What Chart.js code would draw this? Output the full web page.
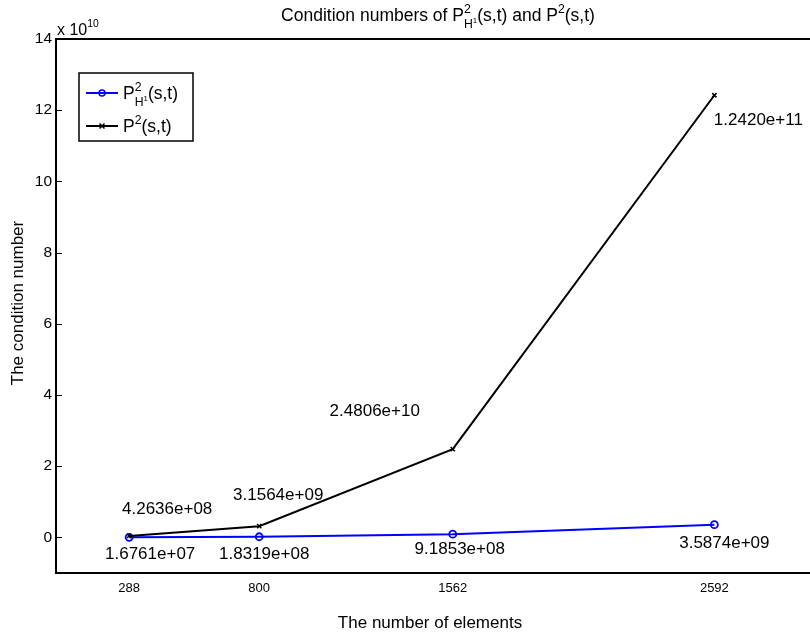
<!DOCTYPE html>
<html lang="en">
<head>
    <meta charset="UTF-8"/>
    <title>Condition numbers</title>
    <script src="https://cdn.jsdelivr.net/npm/chart.js"></script>
    <style>
        html, body {
            margin: 0;
            padding: 0;
            background: #fff;
            overflow: hidden;
        }

        #chart {
            display: block;
            width: 830px;
            height: 641px;
        }
    </style>
</head>
<body>
<canvas id="chart" width="830" height="641"></canvas>

<script>
    // data
    const xValues = [288, 800, 1562, 2592];
    const p2H1Values = [1.6761e7, 1.8319e8, 9.1853e8, 3.5874e9];
    const p2Values = [4.2636e8, 3.1564e9, 2.4806e10, 1.2420e11];
    const yTickValues = [0, 2, 4, 6, 8, 10, 12, 14];
    const yExponent = 10;

    // pixel offsets of the value labels from their points
    const p2H1LabelOffsets = [[21, 17], [5, 18], [7, 15], [10, 19]];
    const p2LabelOffsets = [[38, -27], [19, -31], [-78, -38], [44, 25]];

    const FONT = "'Liberation Sans', Arial, Helvetica, sans-serif";
    const BLUE = '#0000ff';
    const BLACK = '#000000';
    const scaleFactor = Math.pow(10, yExponent);

    function fmtValue(v) {
        const [m, e] = v.toExponential(4).split('e');
        const n = parseInt(e, 10);
        return m + 'e' + (n < 0 ? '-' : '+') + String(Math.abs(n)).padStart(2, '0');
    }

    // parts: {t, s (scale), dy (fraction of size), adv (advance x)}
    function richWidth(ctx, parts, size) {
        let w = 0;
        parts.forEach(p => {
            ctx.font = (size * (p.s || 1)) + 'px ' + FONT;
            if (p.adv !== false) w += ctx.measureText(p.t).width;
        });
        return w;
    }

    function drawRich(ctx, parts, x, y, size, align) {
        let cx = x;
        if (align === 'center') cx = x - richWidth(ctx, parts, size) / 2;
        ctx.textAlign = 'left';
        ctx.textBaseline = 'alphabetic';
        parts.forEach(p => {
            ctx.font = (size * (p.s || 1)) + 'px ' + FONT;
            ctx.fillText(p.t, cx, y + (p.dy || 0) * size);
            if (p.adv !== false) cx += ctx.measureText(p.t).width;
        });
    }

    const pH1Parts = [
        {t: 'P'},
        {t: '2', s: 0.7, dy: -0.45, adv: false},
        {t: 'H', s: 0.7, dy: 0.42},
        {t: '1', s: 0.45, dy: 0.12}
    ];
    const legendH1 = pH1Parts.concat([{t: '(s,t)'}]);
    const legendP2 = [{t: 'P'}, {t: '2', s: 0.7, dy: -0.45}, {t: '(s,t)'}];
    const titleParts = [{t: 'Condition numbers of '}].concat(pH1Parts,
        [{t: '(s,t) and P'}, {t: '2', s: 0.7, dy: -0.45}, {t: '(s,t)'}]);

    const decorations = {
        id: 'decorations',
        afterDraw(chart) {
            const ctx = chart.ctx;
            const area = chart.chartArea;
            const xs = chart.scales.x;
            const ys = chart.scales.y;
            ctx.save();
            ctx.fillStyle = BLACK;
            ctx.strokeStyle = BLACK;

            // frame (right side falls off the page)
            ctx.lineWidth = 2;
            ctx.beginPath();
            ctx.moveTo(area.right, area.top);
            ctx.lineTo(area.left, area.top);
            ctx.lineTo(area.left, area.bottom);
            ctx.lineTo(area.right, area.bottom);
            ctx.stroke();

            // inward y ticks
            ctx.lineWidth = 1;
            ys.ticks.forEach(t => {
                const py = Math.round(ys.getPixelForValue(t.value)) + 0.5;
                ctx.beginPath();
                ctx.moveTo(area.left, py);
                ctx.lineTo(area.left + 6, py);
                ctx.stroke();
            });

            // exponent label
            drawRich(ctx, [{t: 'x 10'}, {t: String(yExponent), s: 0.65, dy: -0.5}],
                area.left + 1, area.top - 4, 16, 'left');

            // title
            drawRich(ctx, titleParts, 438, 21, 17.5, 'center');

            // axis titles
            ctx.font = '17px ' + FONT;
            ctx.textAlign = 'center';
            ctx.textBaseline = 'middle';
            ctx.fillText('The number of elements', 430, 623);
            ctx.save();
            ctx.translate(18, 303);
            ctx.rotate(-Math.PI / 2);
            ctx.fillText('The condition number', 0, 0);
            ctx.restore();

            // value labels
            ctx.font = '17px ' + FONT;
            ctx.textAlign = 'center';
            ctx.textBaseline = 'middle';
            const labelSets = [[p2H1Values, p2H1LabelOffsets], [p2Values, p2LabelOffsets]];
            labelSets.forEach(([vals, offs]) => {
                vals.forEach((v, i) => {
                    const px = xs.getPixelForValue(xValues[i]);
                    const py = ys.getPixelForValue(v / scaleFactor);
                    ctx.fillText(fmtValue(v), px + offs[i][0], py + offs[i][1]);
                });
            });

            // legend
            const lx = area.left + 23, ly = area.top + 34;
            ctx.fillStyle = '#fff';
            ctx.fillRect(lx, ly, 114, 68);
            ctx.lineWidth = 1.5;
            ctx.strokeStyle = BLACK;
            ctx.strokeRect(lx, ly, 114, 68);
            const entries = [
                {color: BLUE, parts: legendH1, y: ly + 20, marker: 'circle'},
                {color: BLACK, parts: legendP2, y: ly + 53, marker: 'cross'}
            ];
            entries.forEach(e => {
                ctx.strokeStyle = e.color;
                ctx.lineWidth = 2;
                ctx.beginPath();
                ctx.moveTo(lx + 7, e.y);
                ctx.lineTo(lx + 39, e.y);
                ctx.stroke();
                ctx.lineWidth = 1.5;
                ctx.beginPath();
                if (e.marker === 'circle') {
                    ctx.arc(lx + 23, e.y, 3, 0, Math.PI * 2);
                } else {
                    ctx.moveTo(lx + 20.5, e.y - 2.5);
                    ctx.lineTo(lx + 25.5, e.y + 2.5);
                    ctx.moveTo(lx + 25.5, e.y - 2.5);
                    ctx.lineTo(lx + 20.5, e.y + 2.5);
                }
                ctx.stroke();
                ctx.fillStyle = BLACK;
                drawRich(ctx, e.parts, lx + 44, e.y + 6, 17.5, 'left');
            });
            ctx.restore();
        }
    };

    new Chart(document.getElementById('chart'), {
        type: 'line',
        data: {
            datasets: [{
                label: 'P2H1(s,t)',
                data: xValues.map((x, i) => ({x: x, y: p2H1Values[i] / scaleFactor})),
                borderColor: BLUE,
                borderWidth: 2,
                pointStyle: 'circle',
                pointRadius: 3.5,
                pointBorderWidth: 1.8,
                pointBorderColor: BLUE,
                pointBackgroundColor: 'rgba(0,0,0,0)',
                tension: 0,
                order: 1
            }, {
                label: 'P2(s,t)',
                data: xValues.map((x, i) => ({x: x, y: p2Values[i] / scaleFactor})),
                borderColor: BLACK,
                borderWidth: 2,
                pointStyle: 'crossRot',
                pointRadius: 3,
                pointBorderWidth: 1.5,
                pointBorderColor: BLACK,
                tension: 0,
                order: 0
            }]
        },
        options: {
            responsive: false,
            animation: false,
            devicePixelRatio: 1,
            layout: {padding: {top: 39, right: 12, left: 0, bottom: 0}},
            plugins: {
                legend: {display: false},
                tooltip: {enabled: false}
            },
            scales: {
                x: {
                    type: 'linear',
                    min: 0,
                    max: 3000,
                    afterBuildTicks: scale => {
                        scale.ticks = xValues.map(v => ({value: v}));
                    },
                    afterFit: scale => {
                        scale.height = 68;
                    },
                    grid: {display: false, drawTicks: false},
                    border: {display: false},
                    ticks: {
                        color: BLACK,
                        font: {family: FONT, size: 13},
                        padding: 8,
                        maxRotation: 0,
                        autoSkip: false,
                        callback: v => String(v)
                    }
                },
                y: {
                    min: -1,
                    max: 14,
                    afterBuildTicks: scale => {
                        scale.ticks = yTickValues.map(v => ({value: v}));
                    },
                    afterFit: scale => {
                        scale.width = 56;
                    },
                    grid: {display: false, drawTicks: false},
                    border: {display: false},
                    ticks: {
                        color: BLACK,
                        font: {family: FONT, size: 15.5},
                        padding: 4,
                        callback: v => String(v)
                    }
                }
            }
        },
        plugins: [decorations]
    });
</script>
</body>
</html>
